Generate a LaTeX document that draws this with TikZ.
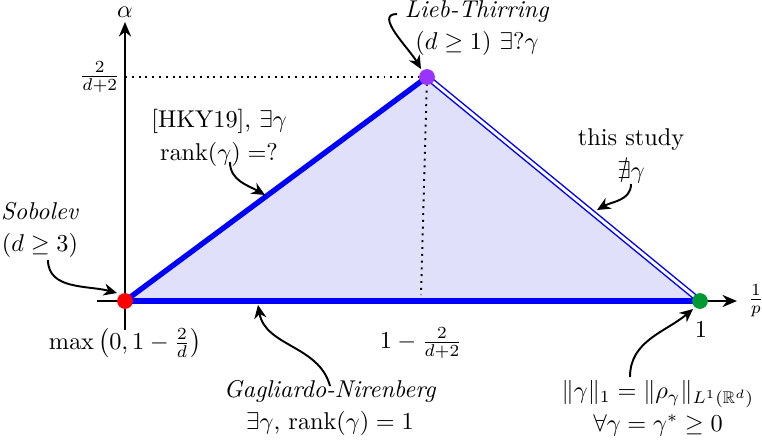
\documentclass[tikz,border=0pt]{standalone}
\usepackage{amsmath,amssymb}
\usetikzlibrary{arrows.meta}
\definecolor{fillblue}{RGB}{224,224,250}
\definecolor{ptpurple}{RGB}{153,51,255}
\definecolor{ptgreen}{RGB}{0,153,51}
\begin{document}
\begin{tikzpicture}[x=0.01446cm,y=-0.01446cm,
  axis/.style={thick,-{Stealth[length=6pt,width=5pt]}},
  annarrow/.style={thick,-{Stealth[length=5.5pt,width=5pt]}},
  thickedge/.style={blue,line width=2.2pt},
  dotline/.style={dotted,thick},
  pt/.style={circle,inner sep=0pt,minimum size=6.5pt},
  lbl/.style={align=center,inner sep=1pt}]
\useasboundingbox (0,0) rectangle (762,440);
% points
\coordinate (O) at (125,301);
\coordinate (T) at (427,77);
\coordinate (R) at (700,301);
\coordinate (ylab) at (125,77);
\coordinate (xmid) at (421,295);
% region
\fill[fillblue] (O) -- (T) -- (R) -- cycle;
% axes
\coordinate (xa0) at (97,301);
\coordinate (xa1) at (737,301);
\coordinate (ya0) at (125,330);
\coordinate (ya1) at (125,22);
\draw[axis] (xa0) -- (xa1);
\draw[axis] (ya0) -- (ya1);
% dotted
\draw[dotline] (ylab) -- (T);
\draw[dotline] (T) -- (xmid);
% edges
\draw[thickedge,line cap=round] (O) -- (T);
\draw[thickedge] (O) -- (R);
\draw[blue,double=white,double distance=1.2pt,line width=0.6pt] (T) -- (R);
% dots
\node[pt,fill=red] (pO) at (O) {};
\node[pt,fill=ptpurple] (pT) at (T) {};
\node[pt,fill=ptgreen] (pR) at (R) {};
% axis labels
\node (alpha) at (125,12) {$\alpha$};
\node (oneoverp) at (756,301) {$\frac{1}{p}$};
\node[anchor=east,inner sep=1pt] (frac) at (123,77) {$\frac{2}{d+2}$};
\node (maxlab) at (125,343) {$\max\left(0,1-\frac{2}{d}\right)$};
\node (midlab) at (421,343) {$1-\frac{2}{d+2}$};
\node (onelab) at (701,330) {$1$};
% annotations
\node[lbl] (hky) at (219,138) {[HKY19], $\exists\gamma$\\[1.5pt] $\operatorname{rank}(\gamma)=?$};
\coordinate (hkyE) at (265,195);
\draw[annarrow] (230,162) to[out=-90,in=150] (hkyE);

\node[lbl] (lieb) at (477,28) {\textit{Lieb-Thirring}\\[1.5pt] $(d\geq 1)$ $\exists?\gamma$};
\coordinate (liebS) at (397,14);
\coordinate (liebE) at (421,69);
\draw[annarrow] (liebS) to[out=180,in=120] (liebE);

\node[lbl] (study) at (631,156) {this study\\[1.5pt] $\nexists\gamma$};
\coordinate (studyE) at (597,210);
\draw[annarrow] (631,184) to[out=-90,in=30] (studyE);

\node[lbl] (sob) at (40,230) {\textit{Sobolev}\\[1.5pt] $(d\geq 3)$};
\coordinate (sobE) at (117,293);
\draw[annarrow] (48,260) to[out=-90,in=165] (sobE);

\node[lbl] (gn) at (330,408) {\textit{Gagliardo-Nirenberg}\\[1.5pt] $\exists\gamma$, $\operatorname{rank}(\gamma)=1$};
\coordinate (gnE) at (258,305);
\draw[annarrow] (330,386) to[out=105,in=-80] (gnE);

\node[lbl] (norm) at (658,408) {$\|\gamma\|_1=\|\rho_\gamma\|_{L^1(\mathbb{R}^d)}$\\[1.5pt] $\forall\gamma=\gamma^*\geq 0$};
\coordinate (normE) at (693,309);
\draw[annarrow] (630,377) to[out=90,in=-140] (normE);
\end{tikzpicture}
\end{document}
